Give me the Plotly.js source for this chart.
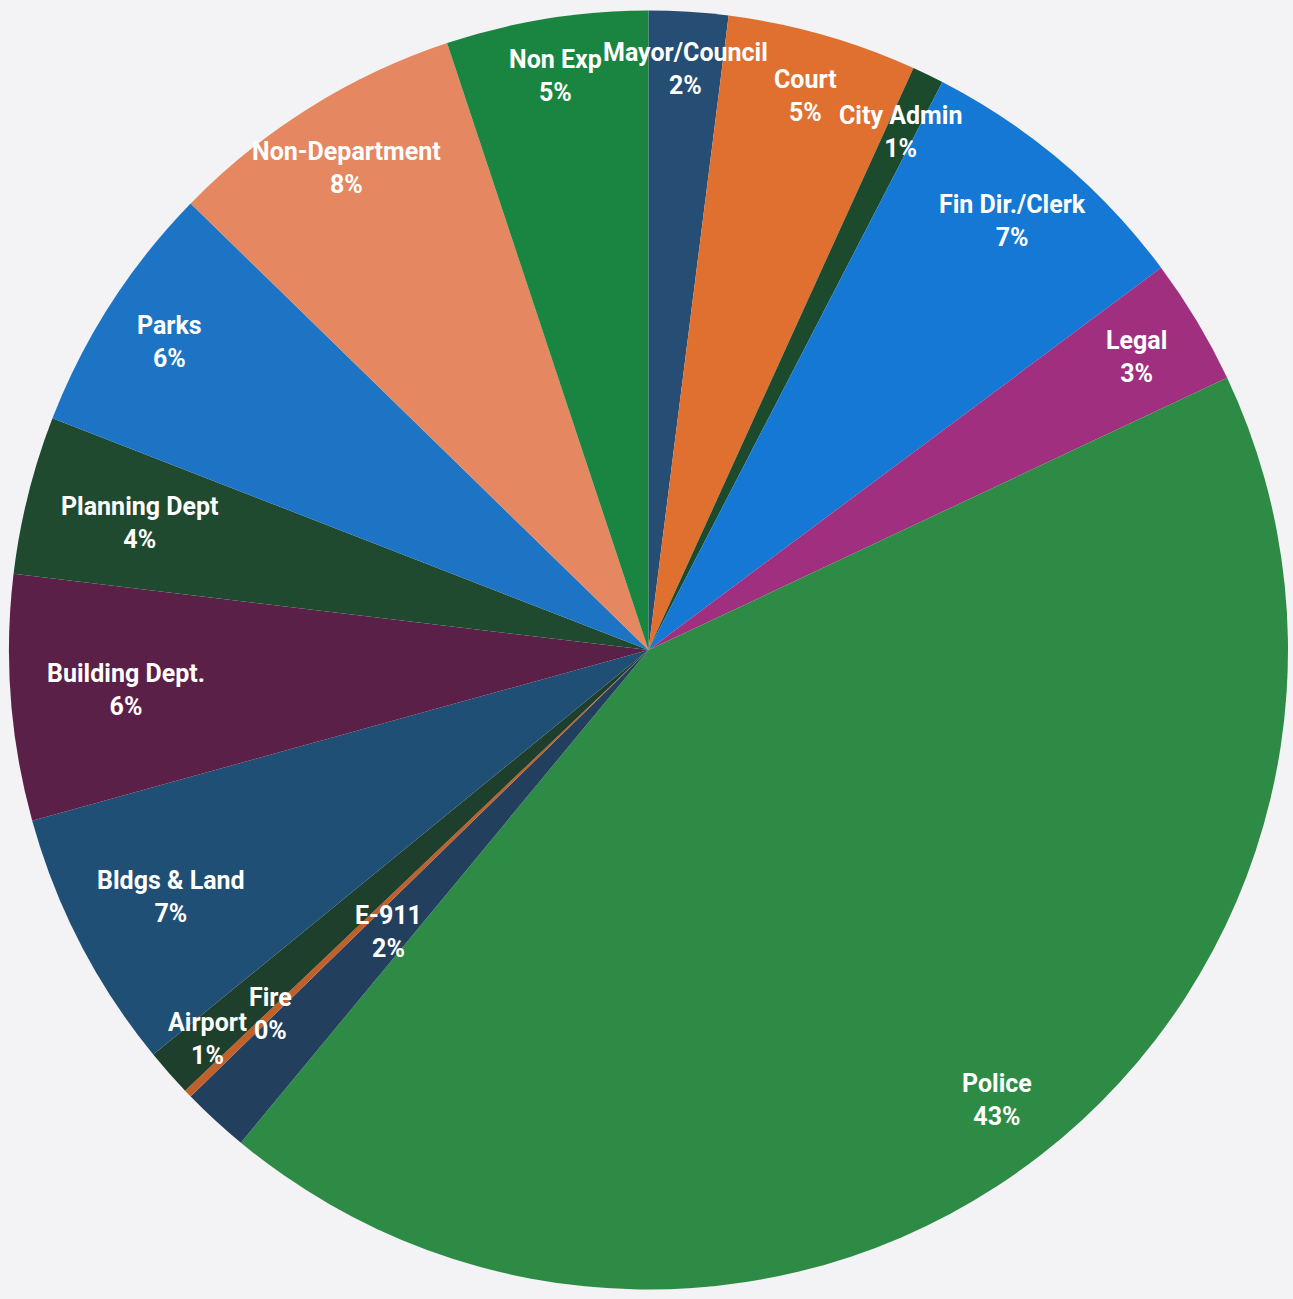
<!DOCTYPE html>
<html>
<head>
<meta charset="utf-8">
<script src="https://cdn.plot.ly/plotly-3.0.1.min.js"></script>
<style>html,body{margin:0;padding:0;background:#f3f3f5;}</style>
</head>
<body>
<div id="chart" style="width:1293px;height:1299px;"></div>
<script>
// Data (clockwise from 12 o'clock)
const labels = ["Mayor/Council","Court","City Admin","Fin Dir./Clerk","Legal","Police","E-911","Fire","Airport","Bldgs & Land","Building Dept.","Planning Dept","Parks","Non-Department","Non Exp"];
const values = [2.0, 4.8, 0.8, 7.2, 3.2, 43.0, 1.7, 0.2, 1.2, 6.6, 6.2, 4.0, 6.4, 7.6, 5.1];
const colors = ["#264d73","#e07030","#1b4a2d","#1478d4","#a0307f","#2e8b45","#22405e","#c0602a","#1d3f2b","#1f4f74","#5a2047","#1f4a30","#1d74c4","#e58861","#1a8540"];
// label distance from centre as a fraction of the radius
const labelRadius = [0.91,0.90,0.90,0.88,0.89,0.89,0.60,0.82,0.92,0.84,0.82,0.82,0.89,0.89,0.91];

const W = 1293, H = 1299;
const margin = {l: 9, r: 5, t: 9, b: 8};
const pw = W - margin.l - margin.r, ph = H - margin.t - margin.b;
const R = Math.min(pw, ph) / 2;

const total = values.reduce((a, b) => a + b, 0);
let cum = 0;
const annotations = labels.map((lab, i) => {
  let mid = (cum + values[i] / 2) / total;
  cum += values[i];
  const ang = mid * 2 * Math.PI;
  const r = R * labelRadius[i];
  const dx = r * Math.sin(ang), dy = -r * Math.cos(ang);
  const pct = Math.round(values[i] / total * 100);
  return {
    xref: "paper", yref: "paper",
    x: 0.5 + dx / pw, y: 0.5 - dy / ph,
    xanchor: "center", yanchor: "middle",
    text: lab + "<br>" + pct + "%",
    showarrow: false,
    font: {family: "Roboto, sans-serif", size: 25, color: "#ffffff", weight: "bold"},
    align: "center"
  };
});

const trace = {
  type: "pie",
  labels: labels,
  values: values,
  sort: false,
  direction: "clockwise",
  rotation: 0,
  marker: {colors: colors, line: {width: 0}},
  textinfo: "none",
  hoverinfo: "label+percent",
  showlegend: false
};

Plotly.newPlot("chart", [trace], {
  width: W, height: H,
  margin: margin,
  paper_bgcolor: "#f3f3f5",
  showlegend: false,
  annotations: annotations
}, {displayModeBar: false, staticPlot: true});
</script>
</body>
</html>
